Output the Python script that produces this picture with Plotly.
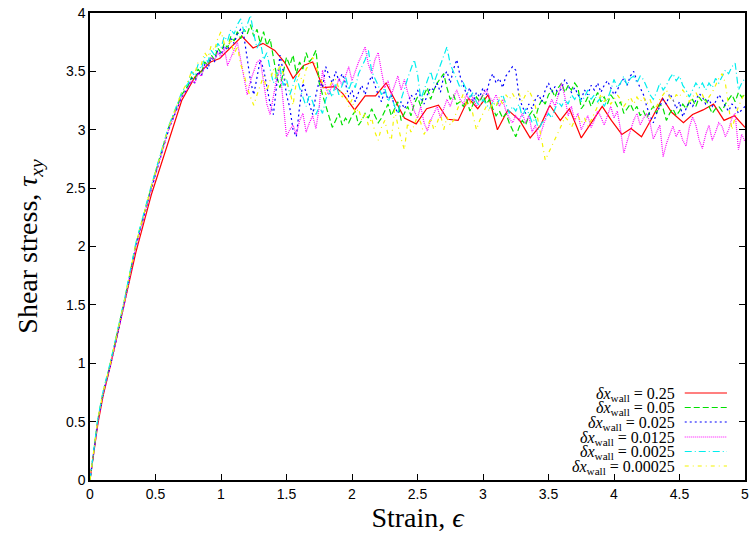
import numpy as np
import plotly.graph_objects as go

# ---------------- data ----------------
rise_x = [0, 0.03, 0.06, 0.1, 0.16, 0.26, 0.35, 0.47, 0.6, 0.7]
tail_start, tail_stop, tail_step = 0.75, 5.0, 0.025

labels = ["0.25", "0.05", "0.025", "0.0125", "0.0025", "0.00025"]

red_x = [0, 0.03, 0.06, 0.1, 0.16, 0.26, 0.35, 0.47, 0.6, 0.7, 0.8, 0.92, 0.99, 1.07, 1.16,
         1.245, 1.32, 1.41, 1.49, 1.55, 1.63, 1.70, 1.78, 1.87, 1.93, 2.02, 2.10,
         2.18, 2.26, 2.33, 2.40, 2.49, 2.57, 2.66, 2.73, 2.81, 2.89, 2.96, 3.04,
         3.11, 3.19, 3.28, 3.36, 3.44, 3.51, 3.59, 3.66, 3.75, 3.83, 3.91, 3.98,
         4.06, 4.13, 4.21, 4.29, 4.37, 4.44, 4.53, 4.60, 4.68, 4.76, 4.84, 4.92, 5.0]
red_y = [0, 0.26, 0.48, 0.72, 1.0, 1.5, 1.95, 2.45, 2.9, 3.25, 3.45, 3.58, 3.61, 3.70, 3.80,
         3.70, 3.74, 3.68, 3.57, 3.44, 3.55, 3.58, 3.36, 3.37, 3.31, 3.17, 3.29,
         3.29, 3.40, 3.25, 3.10, 3.05, 3.18, 3.21, 3.09, 3.08, 3.27, 3.18, 3.30,
         3.00, 3.17, 3.08, 2.93, 3.04, 3.21, 3.08, 3.18, 2.93, 3.06, 3.20, 3.08,
         2.96, 3.01, 2.94, 3.10, 3.27, 3.15, 3.06, 3.13, 3.17, 3.22, 3.08, 3.12, 3.02]

green_rise = [0, 0.28, 0.52, 0.75, 1.02, 1.52, 2.02, 2.52, 3.02, 3.30]
green_tail = [
    3.38, 3.45, 3.42, 3.52, 3.48, 3.58, 3.55, 3.64, 3.60, 3.70, 3.66, 3.74, 3.70, 3.80, 3.76, 3.84, 3.78, 3.86, 3.82, 3.90,
    3.80, 3.86, 3.74, 3.84, 3.72, 3.78, 3.60, 3.46, 3.36, 3.50, 3.62, 3.55, 3.64, 3.48, 3.58, 3.52, 3.66, 3.58, 3.62, 3.68,
    3.40, 3.30, 3.20, 3.12, 3.02, 3.08, 3.14, 3.04, 3.10, 3.06, 3.12, 3.16, 3.04, 3.08, 3.14, 3.10, 3.18, 3.12, 3.06, 3.10,
    3.16, 3.22, 3.12, 3.18, 3.24, 3.08, 3.14, 3.20, 3.12, 3.22, 3.28, 3.20, 3.30, 3.36, 3.26, 3.34, 3.40, 3.44, 3.48, 3.36,
    3.26, 3.30, 3.22, 3.24, 3.20, 3.26, 3.16, 3.22, 3.28, 3.24, 3.30, 3.22, 3.26, 3.18, 3.12, 3.16, 3.10, 3.14, 3.06, 3.00,
    2.94, 3.02, 3.08, 3.04, 3.12, 3.16, 3.10, 3.20, 3.26, 3.22, 3.30, 3.34, 3.28, 3.36, 3.40, 3.32, 3.38, 3.34, 3.40, 3.36,
    3.18, 3.22, 3.28, 3.20, 3.26, 3.32, 3.24, 3.28, 3.22, 3.30, 3.26, 3.20, 3.24, 3.14, 3.18, 3.22, 3.16, 3.20, 3.12, 3.16,
    3.10, 3.16, 3.20, 3.14, 3.22, 3.18, 3.08, 3.14, 3.18, 3.12, 3.16, 3.22, 3.18, 3.24, 3.26, 3.20, 3.28, 3.24, 3.26, 3.20,
    3.14, 3.18, 3.20, 3.16, 3.22, 3.26, 3.30, 3.24, 3.32, 3.28, 3.30]

blue_rise = [0, 0.27, 0.50, 0.74, 1.00, 1.50, 2.00, 2.50, 3.00, 3.28]
blue_tail = [
    3.36, 3.44, 3.40, 3.50, 3.46, 3.56, 3.52, 3.62, 3.58, 3.68, 3.64, 3.72, 3.68, 3.78, 3.74, 3.82, 3.86, 3.80, 3.60, 3.42,
    3.30, 3.44, 3.60, 3.52, 3.38, 3.22, 3.13, 3.40, 3.64, 3.50, 3.30, 3.19, 3.00, 2.94, 3.20, 3.40, 3.32, 3.22, 3.13, 3.30,
    3.42, 3.36, 3.54, 3.46, 3.40, 3.50, 3.42, 3.48, 3.40, 3.28, 3.34, 3.24, 3.32, 3.38, 3.30, 3.40, 3.46, 3.38, 3.30, 3.24,
    3.34, 3.26, 3.30, 3.20, 3.14, 3.24, 3.18, 3.23, 3.30, 3.26, 3.34, 3.28, 3.22, 3.30, 3.36, 3.34, 3.40, 3.32, 3.46, 3.50,
    3.40, 3.52, 3.60, 3.46, 3.38, 3.30, 3.36, 3.24, 3.32, 3.28, 3.36, 3.30, 3.42, 3.48, 3.40, 3.44, 3.36, 3.46, 3.50, 3.54,
    3.51, 3.28, 3.20, 3.14, 3.22, 3.18, 3.26, 3.30, 3.24, 3.34, 3.40, 3.32, 3.37, 3.30, 3.36, 3.43, 3.38, 3.32, 3.36, 3.30,
    3.26, 3.34, 3.30, 3.38, 3.34, 3.40, 3.32, 3.38, 3.42, 3.36, 3.30, 3.34, 3.40, 3.44, 3.38, 3.46, 3.50, 3.42, 3.36, 3.30,
    3.20, 3.12, 3.06, 3.14, 3.20, 3.26, 3.22, 3.31, 3.26, 3.18, 3.24, 3.11, 3.18, 3.24, 3.20, 3.26, 3.31, 3.28, 3.22, 3.26,
    3.20, 3.24, 3.30, 3.26, 3.20, 3.16, 3.22, 3.20, 3.14, 3.17, 3.20]

magenta_rise = [0, 0.27, 0.50, 0.74, 1.00, 1.50, 2.00, 2.50, 3.00, 3.28]
magenta_tail = [
    3.36, 3.42, 3.40, 3.48, 3.46, 3.54, 3.58, 3.62, 3.60, 3.66, 3.62, 3.70, 3.55, 3.62, 3.68, 3.75, 3.60, 3.44, 3.30, 3.42,
    3.50, 3.58, 3.60, 3.40, 3.22, 3.13, 3.30, 3.44, 3.52, 3.20, 2.94, 3.00, 3.04, 2.96, 3.08, 3.14, 2.98, 3.06, 3.12, 3.01,
    3.20, 3.51, 3.36, 3.30, 3.40, 3.34, 3.44, 3.38, 3.46, 3.54, 3.42, 3.50, 3.58, 3.64, 3.71, 3.56, 3.48, 3.60, 3.66, 3.50,
    3.36, 3.42, 3.30, 3.38, 3.46, 3.34, 3.43, 3.32, 3.24, 3.16, 3.10, 3.20, 3.06, 2.99, 3.08, 3.14, 3.20, 3.10, 3.18, 3.26,
    3.20, 3.28, 3.34, 3.26, 3.22, 3.30, 3.24, 3.28, 3.20, 3.26, 3.30, 3.34, 3.28, 3.24, 3.30, 3.20, 3.26, 3.16, 3.10, 3.06,
    3.12, 3.08, 3.14, 3.06, 3.12, 2.98, 3.04, 2.91, 3.00, 3.10, 3.18, 3.26, 3.20, 3.30, 3.40, 3.28, 3.12, 3.20, 3.08, 3.14,
    3.00, 3.06, 3.12, 3.02, 3.08, 3.16, 3.11, 3.04, 3.12, 3.20, 3.10, 3.16, 3.00, 2.80, 2.90, 3.00, 3.08, 3.14, 3.04, 3.10,
    3.14, 3.06, 2.92, 2.98, 3.04, 2.77, 2.88, 2.96, 3.03, 2.94, 3.00, 2.91, 2.86, 3.02, 3.11, 3.04, 2.91, 2.84, 2.96, 3.04,
    2.91, 2.98, 3.06, 3.03, 2.94, 3.00, 3.10, 3.14, 2.83, 2.96, 2.90]

cyan_rise = [0, 0.29, 0.53, 0.76, 1.03, 1.53, 2.03, 2.53, 3.03, 3.32]
cyan_tail = [
    3.40, 3.50, 3.46, 3.56, 3.52, 3.62, 3.58, 3.68, 3.64, 3.74, 3.70, 3.80, 3.76, 3.86, 3.82, 3.90, 3.95, 3.84, 3.90, 3.98,
    3.82, 3.70, 3.76, 3.60, 3.66, 3.52, 3.40, 3.47, 3.54, 3.38, 3.44, 3.30, 3.38, 3.46, 3.36, 3.28, 3.20, 3.30, 3.24, 3.13,
    3.20, 3.14, 3.26, 3.34, 3.28, 3.40, 3.30, 3.38, 3.46, 3.34, 3.42, 3.36, 3.48, 3.54, 3.60, 3.68, 3.50, 3.44, 3.38, 3.30,
    3.36, 3.24, 3.30, 3.20, 3.14, 3.26, 3.36, 3.44, 3.52, 3.60, 3.48, 3.26, 3.34, 3.42, 3.50, 3.40, 3.48, 3.56, 3.64, 3.71,
    3.56, 3.50, 3.43, 3.36, 3.40, 3.34, 3.28, 3.32, 3.24, 3.20, 3.26, 3.22, 3.18, 3.24, 3.20, 3.26, 3.30, 3.22, 3.14, 3.20,
    3.16, 3.22, 3.11, 3.18, 3.14, 3.06, 3.10, 3.00, 3.06, 3.08, 3.14, 3.10, 3.18, 3.24, 3.20, 3.26, 3.22, 3.30, 3.26, 3.31,
    3.24, 3.28, 3.34, 3.26, 3.30, 3.24, 3.28, 3.20, 3.26, 3.34, 3.43, 3.36, 3.40, 3.46, 3.38, 3.44, 3.46, 3.40, 3.46, 3.43,
    3.36, 3.30, 3.26, 3.32, 3.40, 3.34, 3.38, 3.44, 3.48, 3.42, 3.46, 3.38, 3.34, 3.28, 3.34, 3.40, 3.36, 3.40, 3.34, 3.40,
    3.36, 3.44, 3.40, 3.46, 3.51, 3.48, 3.54, 3.57, 3.34, 3.40, 3.44]

yellow_rise = [0, 0.28, 0.52, 0.75, 1.02, 1.52, 2.02, 2.52, 3.02, 3.32]
yellow_tail = [
    3.42, 3.50, 3.48, 3.58, 3.56, 3.66, 3.62, 3.72, 3.68, 3.78, 3.84, 3.74, 3.70, 3.78, 3.64, 3.72, 3.56, 3.48, 3.36, 3.28,
    3.21, 3.30, 3.38, 3.46, 3.33, 3.42, 3.52, 3.44, 3.56, 3.48, 3.40, 3.34, 3.21, 3.41, 3.48, 3.40, 3.52, 3.56, 3.62, 3.54,
    3.46, 3.40, 3.30, 3.36, 3.42, 3.43, 3.36, 3.28, 3.32, 3.20, 3.26, 3.14, 3.18, 3.08, 3.14, 3.04, 3.10, 2.98, 2.91, 3.02,
    3.08, 2.96, 2.91, 3.17, 3.04, 2.92, 2.83, 3.06, 2.98, 3.04, 3.12, 3.06, 2.96, 3.02, 3.10, 3.00, 3.06, 3.14, 3.00, 3.11,
    3.04, 3.08, 3.16, 3.24, 3.31, 3.20, 3.26, 3.12, 3.00, 3.08, 3.14, 3.20, 3.16, 3.24, 3.20, 3.28, 3.22, 3.30, 3.26, 3.31,
    3.26, 3.31, 3.24, 3.30, 3.34, 3.28, 3.20, 3.06, 2.90, 2.74, 2.80, 2.86, 2.91, 2.98, 3.04, 3.11, 3.08, 3.02, 3.08, 3.12,
    3.06, 3.10, 3.03, 3.08, 3.14, 3.20, 3.31, 3.24, 3.28, 3.22, 3.26, 3.30, 3.26, 3.20, 3.24, 3.28, 3.22, 3.28, 3.24, 3.28,
    3.22, 3.26, 3.18, 3.20, 3.26, 3.30, 3.34, 3.28, 3.24, 3.30, 3.28, 3.34, 3.30, 3.24, 3.28, 3.32, 3.26, 3.30, 3.24, 3.28,
    3.32, 3.38, 3.44, 3.48, 3.40, 3.20, 3.00, 3.11, 3.20, 3.26, 3.32]

x_ticks = [0, 0.5, 1, 1.5, 2, 2.5, 3, 3.5, 4, 4.5, 5]
y_ticks = [0, 0.5, 1, 1.5, 2, 2.5, 3, 3.5, 4]

# ---------------- figure ----------------
tail_x = np.round(np.arange(tail_start, tail_stop + 1e-9, tail_step), 4)
noisy_x = np.concatenate([rise_x, tail_x])

series = [
    (red_x, red_y, "#ff0000", "solid"),
    (noisy_x, green_rise + green_tail, "#00e000", "6px,3px"),
    (noisy_x, blue_rise + blue_tail, "#0000ff", "2px,3px"),
    (noisy_x, magenta_rise + magenta_tail, "#ff00ff", "1px,1px"),
    (noisy_x, cyan_rise + cyan_tail, "#00eeee", "7px,3px,1px,3px"),
    (noisy_x, yellow_rise + yellow_tail, "#f4f400", "4px,4px,1px,4px"),
]

fig = go.Figure()
for (xs, ys, col, dash), lab in zip(series, labels):
    assert len(xs) == len(ys), (lab, len(xs), len(ys))
    fig.add_trace(go.Scatter(x=list(xs), y=ys, mode="lines",
                             line=dict(color=col, width=1.2, dash=dash),
                             name="δx_wall = " + lab, showlegend=False))

# legend drawn gnuplot-style: right-aligned text with sample line to the right
row_y = [0.1863, 0.1552, 0.1242, 0.0921, 0.061, 0.030]
for (xs, ys, col, dash), lab, yy in zip(series, labels, row_y):
    fig.add_annotation(x=0.8947, y=yy - 0.003, xref="paper", yref="paper",
                       xanchor="right", yanchor="middle", showarrow=False,
                       borderpad=0,
                       text="<i>δx</i><sub>wall</sub> = " + lab,
                       font=dict(family="Liberation Serif", size=16, color="#000"))
    fig.add_shape(type="line", xref="paper", yref="paper",
                  x0=0.908, x1=0.9725, y0=yy, y1=yy,
                  line=dict(color=col, width=1.2, dash=dash))

axis_common = dict(showline=True, linecolor="#000", linewidth=1.5, mirror="ticks",
                   ticks="inside", ticklen=6, tickwidth=1, tickcolor="#000",
                   showgrid=False, zeroline=False,
                   tickfont=dict(family="Liberation Sans", size=14, color="#000"))

fig.update_layout(
    width=752, height=535,
    margin=dict(l=90, r=7, t=13, b=55),
    paper_bgcolor="white", plot_bgcolor="white",
    xaxis=dict(range=[0, 5], tickvals=x_ticks, ticktext=[f"{t:g}" for t in x_ticks],
               title=dict(text="Strain, <i>ϵ</i>", standoff=2,
                          font=dict(family="Liberation Serif", size=28, color="#000")),
               automargin=False, **axis_common),
    yaxis=dict(range=[0, 4], tickvals=y_ticks, ticktext=[f"{t:g}" for t in y_ticks],
               title=dict(text="Shear stress, <i>τ<sub>xy</sub></i>", standoff=20,
                          font=dict(family="Liberation Serif", size=28, color="#000")),
               automargin=False, **axis_common),
    showlegend=False,
)

fig.write_html("out.html")
